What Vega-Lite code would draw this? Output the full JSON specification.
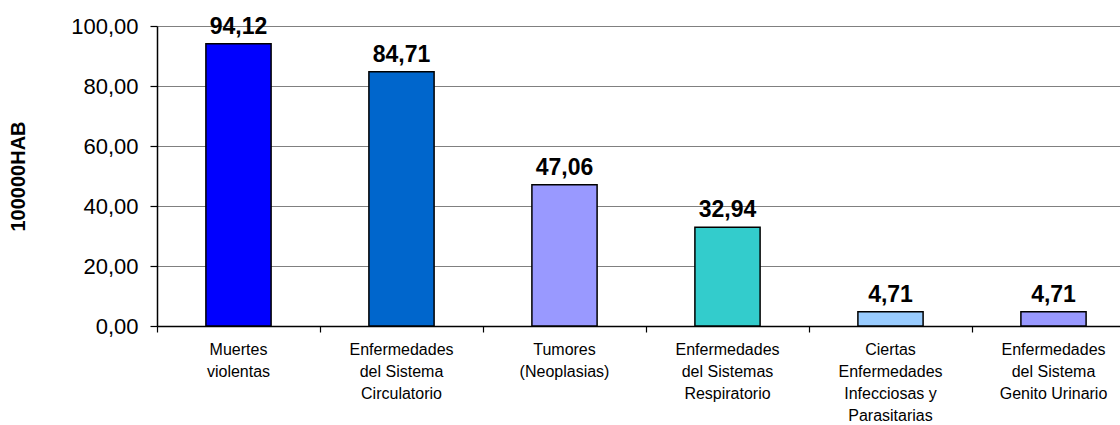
{
  "$schema": "https://vega.github.io/schema/vega-lite/v6.json",
  "width": 978,
  "height": 300,
  "padding": {"left": 8, "top": 15, "right": 0, "bottom": 0},
  "config": {
    "view": {"stroke": null},
    "locale": {"number": {"decimal": ",", "thousands": ".", "grouping": [3], "currency": ["", " €"]}},
    "font": "Liberation Sans"
  },
  "data": {
    "values": [
      {"causa": "Muertes|violentas", "tasa": 94.12, "grupo": "a"},
      {"causa": "Enfermedades|del Sistema|Circulatorio", "tasa": 84.71, "grupo": "b"},
      {"causa": "Tumores|(Neoplasias)", "tasa": 47.06, "grupo": "c"},
      {"causa": "Enfermedades|del Sistemas|Respiratorio", "tasa": 32.94, "grupo": "d"},
      {"causa": "Ciertas|Enfermedades|Infecciosas y|Parasitarias", "tasa": 4.71, "grupo": "e"},
      {"causa": "Enfermedades|del Sistema|Genito Urinario", "tasa": 4.71, "grupo": "f"}
    ]
  },
  "encoding": {
    "x": {
      "field": "causa",
      "type": "nominal",
      "sort": null,
      "scale": {"paddingInner": 0, "paddingOuter": 0},
      "axis": {
        "title": null,
        "labelAngle": 0,
        "labelExpr": "split(datum.label, '|')",
        "labelFontSize": 16,
        "labelLineHeight": 22,
        "labelColor": "#000",
        "labelPadding": 9,
        "labelBaseline": "top",
        "bandPosition": 0,
        "domainColor": "#000",
        "domainWidth": 1.5,
        "tickColor": "#000",
        "tickSize": 6,
        "tickWidth": 1.2,
        "labelLimit": 300
      }
    },
    "y": {
      "field": "tasa",
      "type": "quantitative",
      "scale": {"domain": [0, 100], "nice": false},
      "axis": {
        "title": "100000HAB",
        "titleFontSize": 20,
        "titleFontWeight": "bold",
        "titleColor": "#000",
        "titlePadding": 42,
        "values": [0, 20, 40, 60, 80, 100],
        "format": ".2f",
        "labelFontSize": 22,
        "labelColor": "#000",
        "labelPadding": 12,
        "tickSize": 7,
        "tickColor": "#000",
        "tickWidth": 1.2,
        "domainColor": "#000",
        "domainWidth": 1.5,
        "grid": true,
        "gridColor": "#808080",
        "gridWidth": 1.2
      }
    }
  },
  "layer": [
    {
      "mark": {"type": "bar", "width": {"band": 0.4}, "stroke": "#000", "strokeWidth": 1.5},
      "encoding": {
        "color": {
          "field": "grupo",
          "type": "nominal",
          "scale": {"domain": ["a", "b", "c", "d", "e", "f"], "range": ["#0000FF", "#0066CC", "#9999FF", "#33CCCC", "#99CCFF", "#9999FF"]},
          "legend": null
        }
      }
    },
    {
      "mark": {"type": "text", "baseline": "bottom", "dy": -5, "fontSize": 23, "fontWeight": "bold", "color": "#000"},
      "encoding": {
        "text": {"field": "tasa", "type": "quantitative", "format": ".2f"}
      }
    }
  ]
}
